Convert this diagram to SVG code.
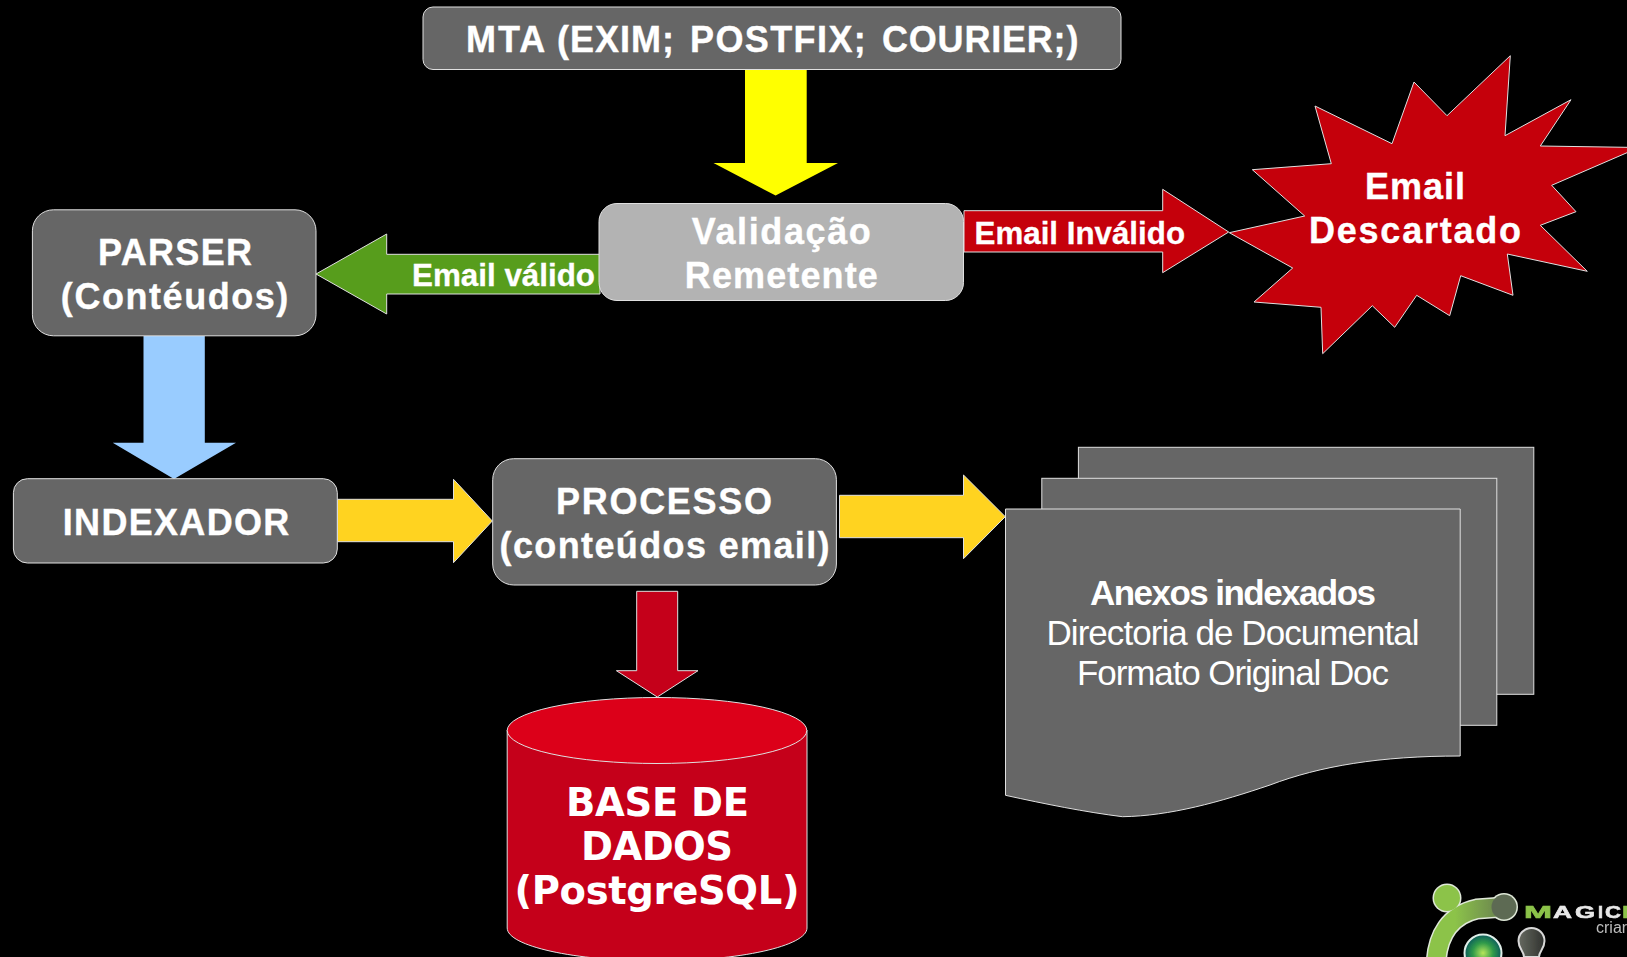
<svg xmlns="http://www.w3.org/2000/svg" width="1627" height="957" viewBox="0 0 1627 957">
<style>
.s{stroke:#e0e0e0;stroke-width:1;stroke-linejoin:miter}
.g{fill:#666666}
.t{font-family:"Liberation Sans",Arial,sans-serif;font-weight:700;fill:#ffffff;stroke:#ffffff;stroke-width:0.35;text-anchor:middle;font-size:36px}
.d{font-family:"DejaVu Sans",sans-serif;font-weight:700;fill:#ffffff;text-anchor:middle;font-size:38.5px}
.l{font-family:"Liberation Sans",Arial,sans-serif;font-weight:700;fill:#ffffff;stroke:#ffffff;stroke-width:0.3;font-size:32px}
.n{font-family:"Liberation Sans",Arial,sans-serif;fill:#ffffff;text-anchor:middle;font-size:35px}
.m{font-family:"Liberation Sans",sans-serif;font-weight:700;font-size:17px;stroke-width:0.6}
</style>
<defs>
<linearGradient id="arm" gradientUnits="userSpaceOnUse" x1="1455" y1="905" x2="1518" y2="905"><stop offset="0" stop-color="#8cc34a"/><stop offset="1" stop-color="#5d6b52"/></linearGradient>
<linearGradient id="knob" x1="0" y1="0" x2="1" y2="0"><stop offset="0" stop-color="#666a60"/><stop offset="1" stop-color="#2f312e"/></linearGradient>
<radialGradient id="orb"><stop offset="0" stop-color="#b6e65a"/><stop offset="0.55" stop-color="#2f9a4a"/><stop offset="1" stop-color="#0c5c5c"/></radialGradient>
<filter id="soft" x="-5%" y="-5%" width="110%" height="110%"><feGaussianBlur stdDeviation="0.7"/></filter>
</defs>
<rect width="1627" height="957" fill="#000000"/>

<g id="connectors">
<path id="a-mta-val" d="M745 69.5H806.7V163H838L775.6 195.5L713.5 163H745Z" fill="#ffff00"/>
<path id="a-val-parser" class="s" d="M600 254.3H386.7V234L316 274L386.7 314V294H600Z" fill="#579d1c"/>
<text class="l" x="412" y="286" textLength="183" lengthAdjust="spacingAndGlyphs">Email válido</text>
<path id="a-val-disc" class="s" d="M964 210.7H1162.7V189.3L1228.7 232L1162.7 272.7V252H964Z" fill="#c5000b"/>
<text class="l" x="974.5" y="244" textLength="210.5" lengthAdjust="spacingAndGlyphs">Email Inválido</text>
<path id="a-parser-idx" d="M143.5 336H204.8V442.7H236L174 479L112.7 442.7H143.5Z" fill="#99ccff"/>
<path id="a-idx-proc" class="s" d="M337.5 499.3H453.5V479.3L492.3 521L453.5 562.7V541.7H337.5Z" fill="#ffd320"/>
<path id="a-proc-docs" class="s" d="M839.5 495.3H963.5V475L1005.3 516.7L963.5 558.7V537.7H839.5Z" fill="#ffd320"/>
<path id="a-proc-db" class="s" d="M636.7 591.3H677.7V670.7H698L657.3 697L616.4 670.7H636.7Z" fill="#c5001a"/>
</g>

<g id="mta">
<rect class="s g" x="423" y="7" width="698" height="62.5" rx="10"/>
<text class="t" y="51.7" style="text-anchor:start"><tspan x="466" letter-spacing="2">MTA</tspan><tspan x="557" letter-spacing="1">(EXIM;</tspan><tspan x="690" letter-spacing="1.4">POSTFIX;</tspan><tspan x="882" letter-spacing="0.8">COURIER;)</tspan></text>
</g>

<g id="validacao">
<rect class="s" fill="#b3b3b3" x="599" y="203.5" width="364.5" height="97" rx="18"/>
<text class="t" x="781.3" y="244" textLength="179" lengthAdjust="spacing">Validação</text>
<text class="t" x="781.3" y="288" textLength="193" lengthAdjust="spacing">Remetente</text>
</g>

<g id="descartado">
<path class="s" fill="#c5000b" d="M1510.3 55.7L1505 135.7L1571 99.7L1540.3 146L1639 147.5L1551.7 185.3L1576 211.7L1540.3 225.3L1587.3 271.3L1507.3 254L1513 295.3L1460.7 275.7L1449.7 315.7L1416.7 295.3L1394.7 327.3L1372.3 305.7L1322.7 353.7L1321 307.3L1254 302L1292.7 268L1229.3 232.7L1304.7 216L1252.3 169.7L1331.3 163.7L1315 106L1392 143.7L1414 82L1447 115.7Z"/>
<text class="t" x="1415" y="198.7" textLength="100" lengthAdjust="spacing">Email</text>
<text class="t" x="1415" y="243" textLength="212" lengthAdjust="spacing">Descartado</text>
</g>

<g id="parser">
<rect class="s g" x="32.4" y="209.8" width="283.6" height="126" rx="21"/>
<text class="t" x="175" y="265" textLength="154" lengthAdjust="spacing">PARSER</text>
<text class="t" x="174.6" y="309" textLength="227.5" lengthAdjust="spacing">(Contéudos)</text>
</g>

<g id="indexador">
<rect class="s g" x="13.4" y="478.7" width="323.9" height="84.3" rx="14"/>
<text class="t" x="176" y="535" textLength="226.5" lengthAdjust="spacing">INDEXADOR</text>
</g>

<g id="processo">
<rect class="s g" x="492.7" y="458.7" width="343.7" height="126.3" rx="21"/>
<text class="t" x="664" y="514" textLength="216" lengthAdjust="spacing">PROCESSO</text>
<text class="t" x="664.6" y="557.7" textLength="330" lengthAdjust="spacing">(conteúdos email)</text>
</g>

<g id="base-de-dados">
<path class="s" fill="#c5001a" d="M507.2 730V928C507.2 946 574 961 657 961S807 946 807 928V730Z"/>
<ellipse class="s" fill="#dc0019" cx="657" cy="730.5" rx="149.8" ry="33"/>
<text class="d" x="657.5" y="815.5" textLength="183" lengthAdjust="spacing">BASE DE</text>
<text class="d" x="657" y="859.5" textLength="152" lengthAdjust="spacing">DADOS</text>
<text class="d" x="657" y="903.5" textLength="285" lengthAdjust="spacing">(PostgreSQL)</text>
</g>

<g id="anexos">
<rect class="s g" x="1078.4" y="447.3" width="455.4" height="247"/>
<rect class="s g" x="1041.8" y="478.3" width="455" height="247"/>
<path class="s g" d="M1005.5 509H1460.2V756C1380 756 1320 766 1270 785C1220 802 1170 816 1122.4 816.7C1085 812 1045 804 1005.5 795.3Z"/>
<text class="n" x="1233" y="605" font-weight="700" textLength="286" lengthAdjust="spacing">Anexos indexados</text>
<text class="n" x="1233" y="644.5" textLength="373" lengthAdjust="spacing">Directoria de Documental</text>
<text class="n" x="1233" y="684.5" textLength="312" lengthAdjust="spacing">Formato Original Doc</text>
</g>

<g id="logo">
<g filter="url(#soft)">
<path d="M1436 965C1437 935 1450 915 1477 909L1504 907" fill="none" stroke="#dfe8d8" stroke-width="21"/>
<circle cx="1447" cy="898" r="14.5" fill="#dfe8d8"/>
<circle cx="1504" cy="907" r="14" fill="#dfe8d8"/>
<path d="M1436 965C1437 935 1450 915 1477 909L1504 907" fill="none" stroke="url(#arm)" stroke-width="18"/>
<circle cx="1447" cy="898" r="13" fill="#8cc34a"/>
<circle cx="1504" cy="907" r="12.5" fill="#5d6b52"/>
<circle cx="1483" cy="953" r="18.5" fill="url(#orb)" stroke="#dfeee8" stroke-width="2"/>
<path d="M1524 957C1524 951 1518.5 949 1518.5 941A13 13 0 0 1 1544.5 941C1544.5 949 1539 951 1539 957Z" fill="url(#knob)" stroke="#d8d8d8" stroke-width="2"/>
<text class="m" x="1524" y="918" fill="#8cc34a" stroke="#8cc34a" textLength="28" lengthAdjust="spacingAndGlyphs">M</text>
<text class="m" x="1553" y="918" fill="#e8e8e8" stroke="#e8e8e8" textLength="19" lengthAdjust="spacingAndGlyphs">A</text>
<text class="m" x="1575" y="918" fill="#e8e8e8" stroke="#e8e8e8" textLength="20" lengthAdjust="spacingAndGlyphs">G</text>
<text class="m" x="1598" y="918" fill="#e8e8e8" stroke="#e8e8e8" textLength="5" lengthAdjust="spacingAndGlyphs">I</text>
<text class="m" x="1605" y="918" fill="#e8e8e8" stroke="#e8e8e8" textLength="16" lengthAdjust="spacingAndGlyphs">C</text>
<text class="m" x="1622" y="918" fill="#8cc34a" stroke="#8cc34a" textLength="16" lengthAdjust="spacingAndGlyphs">L</text>
<text x="1596" y="933" font-family="'Liberation Sans',sans-serif" font-size="16" fill="#bdbdbd">criar</text>
</g>
</g>
</svg>
